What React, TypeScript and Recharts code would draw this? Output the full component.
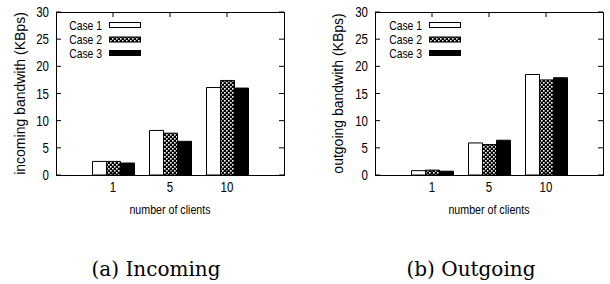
import React from 'react';
import { BarChart, Bar, XAxis, YAxis, Legend } from 'recharts';

// number of clients on the x axis
const clients = ['1', '5', '10'];
const seriesNames = ['Case 1', 'Case 2', 'Case 3'];

// incoming bandwidth (KBps)
const incomingCase1 = [2.5, 8.2, 16.1];
const incomingCase2 = [2.5, 7.7, 17.4];
const incomingCase3 = [2.2, 6.2, 16.0];

// outgoing bandwidth (KBps)
const outgoingCase1 = [0.8, 5.9, 18.5];
const outgoingCase2 = [0.9, 5.6, 17.5];
const outgoingCase3 = [0.7, 6.4, 17.9];

const yTicks = [0, 5, 10, 15, 20, 25, 30];

const FONT = '"Liberation Sans", Arial, Helvetica, sans-serif';
const SQ = 0.82; // the original figure is squeezed horizontally
const fills = ['#ffffff', 'url(#checker)', '#000000'];
const keys = ['case1', 'case2', 'case3'];

const W = 305;
const H = 220;
const TOP = 12;
const X_AXIS_H = 45;

function buildRows(c1: number[], c2: number[], c3: number[]) {
  return clients.map((c, i) => ({ clients: c, case1: c1[i], case2: c2[i], case3: c3[i] }));
}

function LegendBox() {
  const rows = [11, 25.5, 39];
  return (
    <svg width={90} height={50} style={{ display: 'block' }}>
      {seriesNames.map((name, i) => (
        <g key={name}>
          <text
            transform={`translate(42,${rows[i] + 4.5}) scale(0.83,1)`}
            textAnchor="end"
            fontSize={12.5}
            fontFamily={FONT}
          >
            {name}
          </text>
          <rect x={49.5} y={rows[i] - 2.5} width={31} height={5} fill={fills[i]} stroke="#000" />
        </g>
      ))}
    </svg>
  );
}

interface PanelProps {
  rows: { clients: string; case1: number; case2: number; case3: number }[];
  yLabel: string;
  yAxisWidth: number;
  marginRight: number;
  legendLeft: number;
  yLabelX: number;
}

function Panel({ rows, yLabel, yAxisWidth, marginRight, legendLeft, yLabelX }: PanelProps) {
  const plotLeft = yAxisWidth;
  const plotRight = W - marginRight;
  const plotBottom = H - X_AXIS_H;

  const yTick = (p: any) => (
    <g>
      <line x1={plotLeft} x2={plotLeft + 5} y1={p.y} y2={p.y} stroke="#000" />
      <line x1={plotRight - 5} x2={plotRight} y1={p.y} y2={p.y} stroke="#000" />
      <text
        transform={`translate(${p.x},${p.y + 5}) scale(${SQ},1)`}
        textAnchor="end"
        fontSize={14}
        fontFamily={FONT}
      >
        {p.payload.value}
      </text>
    </g>
  );

  const xTick = (p: any) => (
    <g>
      <line x1={p.x} x2={p.x} y1={plotBottom} y2={plotBottom - 5} stroke="#000" />
      <line x1={p.x} x2={p.x} y1={TOP} y2={TOP + 5} stroke="#000" />
      <text
        transform={`translate(${p.x},${p.y + 11}) scale(${SQ},1)`}
        textAnchor="middle"
        fontSize={14}
        fontFamily={FONT}
      >
        {p.payload.value}
      </text>
    </g>
  );

  return (
    <div style={{ position: 'relative', width: W, height: H }}>
      <BarChart
        width={W}
        height={H}
        data={rows}
        margin={{ top: TOP, right: marginRight, bottom: 0, left: 0 }}
        barGap={0}
        barCategoryGap={7}
      >
        <XAxis
          dataKey="clients"
          height={X_AXIS_H}
          padding={{ left: 28.5, right: 28.5 }}
          axisLine={false}
          tickLine={false}
          tickSize={0}
          tickMargin={6}
          tick={xTick}
          label={{
            content: (lp: any) => {
              const vb = lp.viewBox;
              return (
                <text
                  transform={`translate(${vb.x + vb.width / 2},${vb.y + 39}) scale(${SQ},1)`}
                  textAnchor="middle"
                  fontSize={13}
                  fontFamily={FONT}
                >
                  number of clients
                </text>
              );
            },
          }}
        />
        <YAxis
          width={yAxisWidth}
          domain={[0, 30]}
          ticks={yTicks}
          axisLine={false}
          tickLine={false}
          tickSize={0}
          tickMargin={7}
          tick={yTick}
          label={{
            content: (lp: any) => {
              const vb = lp.viewBox;
              const cy = vb.y + vb.height / 2;
              return (
                <text
                  transform={`translate(${yLabelX + 5},${cy}) rotate(-90)`}
                  textAnchor="middle"
                  fontSize={14}
                  fontFamily={FONT}
                >
                  {yLabel}
                </text>
              );
            },
          }}
        />
        <Legend
          layout="vertical"
          align="center"
          verticalAlign="middle"
          width={90}
          height={50}
          wrapperStyle={{ left: legendLeft, top: 14, width: 90, height: 50 }}
          content={() => <LegendBox />}
        />
        {keys.map((k, i) => (
          <Bar
            key={k}
            dataKey={k}
            name={seriesNames[i]}
            fill={fills[i]}
            stroke="#000"
            strokeWidth={1}
            barSize={14}
            isAnimationActive={false}
          />
        ))}
      </BarChart>
      <div
        style={{
          position: 'absolute',
          left: plotLeft - 0.5,
          top: TOP - 0.5,
          width: plotRight - plotLeft + 1,
          height: plotBottom - TOP + 1,
          border: '1px solid #000',
          boxSizing: 'border-box',
          pointerEvents: 'none',
        }}
      />
    </div>
  );
}

const CAPTION_FONT = '"DejaVu Serif", "Liberation Serif", serif';

export default function App() {
  return (
    <div style={{ position: 'absolute', left: 0, top: 0, width: 610, height: 284, background: '#fff', overflow: 'hidden' }}>
      <svg width={0} height={0} style={{ position: 'absolute' }}>
        <defs>
          <pattern id="checker" width={4} height={4} patternUnits="userSpaceOnUse">
            <rect width={4} height={4} fill="#000" />
            <rect x={0} y={0} width={1.6} height={1.6} fill="#fff" />
            <rect x={2} y={2} width={1.6} height={1.6} fill="#fff" />
          </pattern>
        </defs>
      </svg>
      <div style={{ position: 'absolute', left: 0, top: 0 }}>
        <Panel
          rows={buildRows(incomingCase1, incomingCase2, incomingCase3)}
          yLabel="incoming bandwith (KBps)"
          yAxisWidth={56}
          marginRight={21}
          legendLeft={60}
          yLabelX={20}
        />
      </div>
      <div style={{ position: 'absolute', left: 305, top: 0 }}>
        <Panel
          rows={buildRows(outgoingCase1, outgoingCase2, outgoingCase3)}
          yLabel="outgoing bandwith (KBps)"
          yAxisWidth={70}
          marginRight={7}
          legendLeft={75}
          yLabelX={33}
        />
      </div>
      <svg width={610} height={64} style={{ position: 'absolute', left: 0, top: 220 }}>
        <text x={156} y={56} textAnchor="middle" fontSize={20} fontFamily={CAPTION_FONT}>
          (a) Incoming
        </text>
        <text x={471} y={56} textAnchor="middle" fontSize={20} fontFamily={CAPTION_FONT}>
          (b) Outgoing
        </text>
      </svg>
    </div>
  );
}
